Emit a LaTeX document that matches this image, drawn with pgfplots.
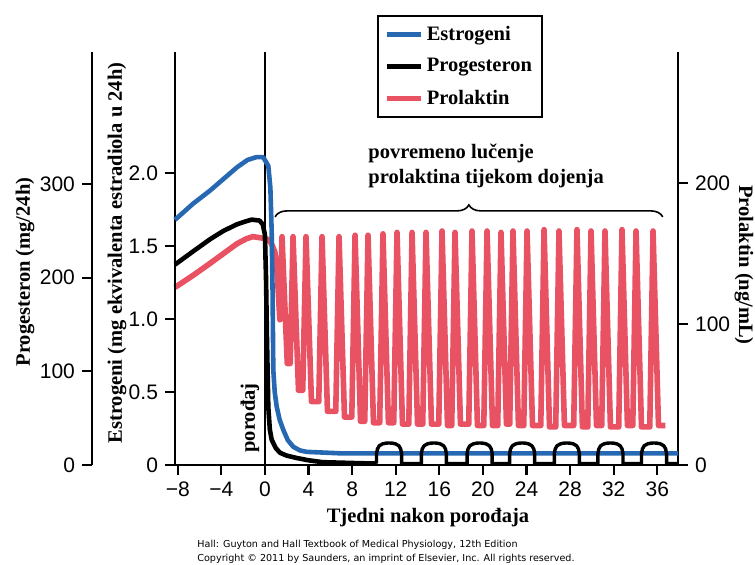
\documentclass[border=0pt]{standalone}
\usepackage{fontspec}
\setmainfont{Liberation Serif}
\setsansfont{Liberation Sans}
\newfontfamily\footfont{DejaVu Sans}
\usepackage{pgfplots}
\pgfplotsset{compat=1.18}
\usetikzlibrary{decorations.pathreplacing}

\definecolor{estro}{RGB}{38,105,178}
\definecolor{prol}{RGB}{232,82,98}

\newcommand{\bt}{\bfseries\fontsize{10.25}{12.5}\selectfont}

\pgfplotsset{
  base/.style={
    scale only axis, width=251.5pt, height=206.5pt,
    xmin=-8.25, xmax=37.9,
    at={(0pt,0pt)}, anchor=south west,
    clip=false,
    tick align=outside, major tick length=5pt,
    tick style={line width=1.1pt, black},
    axis line style={line width=1.2pt, -},
    tick label style={font=\sffamily\fontsize{10.5}{12}\selectfont},
    /pgf/number format/assume math mode=true,
  },
}

\begin{document}
\begin{tikzpicture}

% prolaktin (right axis)
\begin{axis}[base,
  axis x line=none, axis y line*=right,
  ymin=0, ymax=293,
  ytick={0,100,200},
]
\addplot[prol, line width=2.8pt, line join=round] coordinates {
(-8.25,126) (-6.5,135) (-5.04,143) (-3.8,150) (-2.56,157) (-1.7,160.5)
(-1.1,162) (-0.27,161) (0.28,160) (0.6,157) (0.92,151) (1.1,138)
(1.2,126) (1.3,112) (1.37,103)
(1.57,162) (2.05,72)
(2.32,72) (2.58,162) (3.08,53)
(3.47,53) (3.77,162) (4.27,45)
(4.94,45) (5.24,162) (5.74,38)
(6.50,38) (6.80,162) (7.30,34)
(7.97,34) (8.27,163) (8.77,31)
(9.16,31) (9.46,163) (9.96,30)
(10.53,30) (10.83,164) (11.33,30)
(11.82,30) (12.12,165) (12.62,29)
(13.20,29) (13.50,165) (14.00,29)
(14.48,29) (14.78,165) (15.28,29)
(15.95,29) (16.25,166) (16.75,28)
(17.14,28) (17.44,165) (17.94,29)
(18.70,29) (19.00,166) (19.50,28)
(20.08,28) (20.38,166) (20.88,28)
(21.36,28) (21.66,165) (22.16,29)
(22.46,29) (22.76,166) (23.26,28)
(23.75,28) (24.05,166) (24.55,28)
(25.31,28) (25.61,167) (26.11,27)
(26.68,27) (26.98,166) (27.48,28)
(28.33,28) (28.63,167) (29.13,27)
(29.62,27) (29.92,166) (30.42,28)
(30.90,28) (31.20,166) (31.70,27)
(32.46,27) (32.76,167) (33.26,28)
(33.75,28) (34.05,166) (34.55,27)
(35.31,27) (35.61,166) (36.11,28)
(36.75,28)
};
\end{axis}

% estrogeni (main axis)
\begin{axis}[base,
  axis x line*=bottom, axis y line*=left,
  ymin=0, ymax=2.83,
  ytick={0,0.5,1,1.5,2}, yticklabels={0,0.5,1.0,1.5,2.0},
  xtick={-8,-4,0,4,8,12,16,20,24,28,32,36},
  xticklabels={−8,−4,0,4,8,12,16,20,24,28,32,36},
  legend style={at={(0.4016,1.0896)}, anchor=north west,
    draw=black, line width=1.2pt, font=\bt,
    inner xsep=3pt, inner ysep=3pt, row sep=3.5pt},
  legend cell align=left,
  legend image code/.code={\draw[#1] (0pt,0pt) -- (17pt,0pt);},
]
\draw[line width=1pt] (axis cs:0,0) -- (axis cs:0,2.83);
\addplot[estro, line width=2.3pt, line join=round] coordinates {
(-8.25,1.68) (-6.6,1.79) (-5.04,1.88) (-3.8,1.96) (-2.56,2.04)
(-1.6,2.09) (-0.76,2.11) (-0.17,2.11) (0.31,2.05) (0.50,1.9)
(0.62,1.6) (0.70,1.2) (0.77,0.65) (0.9,0.5) (1.08,0.40) (1.35,0.31)
(1.69,0.24) (2.1,0.17) (2.6,0.125) (3.2,0.10) (3.83,0.09) (6.9,0.08)
(37.9,0.08)
};
\addlegendimage{black, line width=2.3pt}
\addlegendimage{prol, line width=2.3pt}
\legend{Estrogeni, Progesteron, Prolaktin}

\draw[line width=0.8pt, decorate, decoration={brace, amplitude=6pt}]
  (axis cs:0.93,1.70) -- (axis cs:36.5,1.70);
\node[anchor=north west, align=left, font=\bt, inner sep=0pt]
  at (axis cs:9.46,2.205) {povremeno lučenje\\prolaktina tijekom dojenja};
\end{axis}

% progesteron (data)
\begin{axis}[base, hide axis, ymin=0, ymax=441]
\addplot[black, line width=2.3pt, line join=round] coordinates {
(-8.25,214) (-6.6,228) (-5.04,241) (-3.8,250) (-2.56,257) (-1.8,260)
(-1.21,262) (-0.5,261) (-0.2,257) (0.0,246) (0.1,200) (0.19,134)
(0.31,62) (0.45,38) (0.62,27) (1.0,18) (1.39,13) (2.0,10) (2.9,7.5)
(4.0,5) (5.3,3) (8.4,2) (10.24,1.5)
};
\addplot[black, line width=1.7pt, line join=round] coordinates {
(10.24,1.5) (10.24,12) (10.32,17) (10.49,20.5) (10.79,22.5) (11.09,23.3) (11.39,23.5)
(11.69,23.3) (11.99,22.5) (12.29,20.5) (12.46,17) (12.54,12) (12.54,1.5)
(14.35,1.5) (14.35,12) (14.43,17) (14.6,20.5) (14.9,22.5) (15.2,23.3) (15.5,23.5)
(15.8,23.3) (16.1,22.5) (16.4,20.5) (16.57,17) (16.65,12) (16.65,1.5)
(18.55,1.5) (18.55,12) (18.63,17) (18.8,20.5) (19.1,22.5) (19.4,23.3) (19.7,23.5)
(20.0,23.3) (20.3,22.5) (20.6,20.5) (20.77,17) (20.85,12) (20.85,1.5)
(22.45,1.5) (22.45,12) (22.53,17) (22.7,20.5) (23.0,22.5) (23.3,23.3) (23.6,23.5)
(23.9,23.3) (24.2,22.5) (24.5,20.5) (24.67,17) (24.75,12) (24.75,1.5)
(26.55,1.5) (26.55,12) (26.63,17) (26.8,20.5) (27.1,22.5) (27.4,23.3) (27.7,23.5)
(28.0,23.3) (28.3,22.5) (28.6,20.5) (28.77,17) (28.85,12) (28.85,1.5)
(30.55,1.5) (30.55,12) (30.63,17) (30.8,20.5) (31.1,22.5) (31.4,23.3) (31.7,23.5)
(32.0,23.3) (32.3,22.5) (32.6,20.5) (32.77,17) (32.85,12) (32.85,1.5)
(34.55,1.5) (34.55,12) (34.63,17) (34.8,20.5) (35.1,22.5) (35.4,23.3) (35.7,23.5)
(36.0,23.3) (36.3,22.5) (36.6,20.5) (36.77,17) (36.85,12) (36.85,1.5)
(37.9,1.5)
};
\end{axis}

% progesteron (outer left scale)
\begin{axis}[base, at={(-41.5pt,0pt)},
  axis x line=none, axis y line*=left,
  ymin=0, ymax=441, ytick={0,100,200,300},
]
\end{axis}

% labels
\node[rotate=90, font=\bt] at (-75pt,96.5pt) {Progesteron (mg/24h)};
\node[rotate=90, font=\bt] at (-29pt,106pt) {Estrogeni (mg ekvivalenta estradiola u 24h)};
\node[rotate=-90, font=\bt] at (284.5pt,100pt) {Prolaktin (ng/mL)};
\node[font=\bt] at (126.5pt,-26.5pt) {Tjedni nakon porođaja};
\node[rotate=90, font=\bt] at (37.5pt,23.5pt) {porođaj};
\node[anchor=west, align=left, inner sep=0pt,
  font=\footfont\fontsize{4.8}{7}\selectfont] at (11pt,-43.5pt)
  {Hall: Guyton and Hall Textbook of Medical Physiology, 12th Edition\\
   Copyright © 2011 by Saunders, an imprint of Elsevier, Inc. All rights reserved.};

\pgfresetboundingbox
\path (-87.5pt,-50pt) rectangle (290pt,232.5pt);
\end{tikzpicture}
\end{document}
